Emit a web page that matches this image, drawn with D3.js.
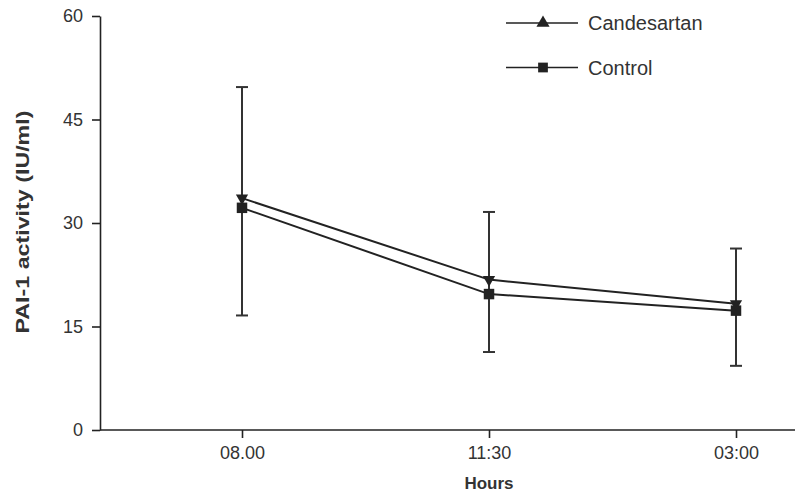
<!DOCTYPE html>
<html>
<head>
<meta charset="utf-8">
<script src="https://cdn.jsdelivr.net/npm/d3@7"></script>
<style>
  body { margin: 0; background: #fff; }
  svg { display: block; font-family: "Liberation Sans", Arial, sans-serif; }
</style>
</head>
<body>
<div id="chart"></div>
<script>
// data
const hours = ['08.00', '11:30', '03:00']
const candesartan = [33.6, 21.8, 18.3]
const control = [32.2, 19.7, 17.3]
const errLow = [16.6, 11.3, 9.3]
const errHigh = [49.7, 31.6, 26.3]
const yTicks = [0, 15, 30, 45, 60]

const w = 795
const h = 495
const plotLeft = 100
const plotTop = 16
const plotBottom = 430

const svg = d3.select('#chart')
    .append('svg')
    .attr('width', w)
    .attr('height', h)

const x = d3.scalePoint()
    .domain(hours)
    .range([242, 736])

const y = d3.scaleLinear()
    .domain([0, 60])
    .range([plotBottom, plotTop])

const ink = '#222'
const textInk = '#333'

// y axis
const yAxis = svg.append('g')
    .attr('transform', `translate(${plotLeft},0)`)
    .call(d3.axisLeft(y).tickValues(yTicks).tickSize(8).tickSizeOuter(0).tickPadding(9))
yAxis.select('.domain').attr('stroke', ink).attr('stroke-width', 1.6)
yAxis.selectAll('.tick line').attr('stroke', ink).attr('stroke-width', 1.6)
yAxis.selectAll('.tick text').attr('fill', textInk).style('font-size', '18px')

// x axis
const xAxis = svg.append('g')
    .attr('transform', `translate(0,${plotBottom})`)
    .call(d3.axisBottom(x).tickSize(8).tickSizeOuter(0).tickPadding(8))
xAxis.select('.domain').remove()
xAxis.append('line')
    .attr('x1', plotLeft).attr('x2', w)
    .attr('stroke', ink).attr('stroke-width', 1.6)
xAxis.selectAll('.tick line').attr('stroke', ink).attr('stroke-width', 1.6)
xAxis.selectAll('.tick text').attr('fill', textInk).style('font-size', '18px')

// axis titles
svg.append('text')
    .attr('x', x('11:30'))
    .attr('y', 489)
    .attr('text-anchor', 'middle')
    .attr('fill', textInk)
    .style('font-size', '17px')
    .style('font-weight', 'bold')
    .text('Hours')

svg.append('text')
    .attr('transform', 'translate(29,222) rotate(-90)')
    .attr('text-anchor', 'middle')
    .attr('fill', textInk)
    .attr('textLength', 223)
    .attr('lengthAdjust', 'spacingAndGlyphs')
    .style('font-size', '18px')
    .style('font-weight', 'bold')
    .text('PAI-1 activity (IU/ml)')

// error bars
const eb = svg.append('g')
    .selectAll('g')
    .data(hours)
    .enter()
    .append('g')
    .attr('stroke', '#333')
    .attr('stroke-width', 2)
eb.append('line')
    .attr('x1', d => x(d)).attr('x2', d => x(d))
    .attr('y1', (d, i) => y(errLow[i]))
    .attr('y2', (d, i) => y(errHigh[i]))
eb.append('line')
    .attr('x1', d => x(d) - 6).attr('x2', d => x(d) + 6)
    .attr('y1', (d, i) => y(errHigh[i])).attr('y2', (d, i) => y(errHigh[i]))
eb.append('line')
    .attr('x1', d => x(d) - 6).attr('x2', d => x(d) + 6)
    .attr('y1', (d, i) => y(errLow[i])).attr('y2', (d, i) => y(errLow[i]))

// series lines
const line = d3.line()
    .x((d, i) => x(hours[i]))
    .y(d => y(d))

;[candesartan, control].forEach(vals => {
    svg.append('path')
        .datum(vals)
        .attr('d', line)
        .attr('fill', 'none')
        .attr('stroke', ink)
        .attr('stroke-width', 2)
})

const triDown = d3.symbol().type(d3.symbolTriangle).size(65)
const sq = d3.symbol().type(d3.symbolSquare).size(110)

svg.append('g')
    .selectAll('path')
    .data(control)
    .enter()
    .append('path')
    .attr('d', sq)
    .attr('transform', (d, i) => `translate(${x(hours[i])},${y(d)})`)
    .attr('fill', ink)

svg.append('g')
    .selectAll('path')
    .data(candesartan)
    .enter()
    .append('path')
    .attr('d', triDown)
    .attr('transform', (d, i) => `translate(${x(hours[i])},${y(d)}) rotate(180)`)
    .attr('fill', ink)

// legend
const legend = [
    { name: 'Candesartan', sym: d3.symbol().type(d3.symbolTriangle).size(75), dy: 23 },
    { name: 'Control', sym: d3.symbol().type(d3.symbolSquare).size(95), dy: 67.5 }
]
const lg = svg.append('g')
    .selectAll('g')
    .data(legend)
    .enter()
    .append('g')
    .attr('transform', d => `translate(506,${d.dy})`)
lg.append('line')
    .attr('x1', 0).attr('x2', 72)
    .attr('stroke', ink).attr('stroke-width', 1.6)
lg.append('path')
    .attr('d', d => d.sym())
    .attr('transform', 'translate(37,0)')
    .attr('fill', ink)
lg.append('text')
    .attr('x', 82)
    .attr('dy', '0.35em')
    .attr('fill', textInk)
    .style('font-size', '20px')
    .text(d => d.name)
</script>
</body>
</html>
